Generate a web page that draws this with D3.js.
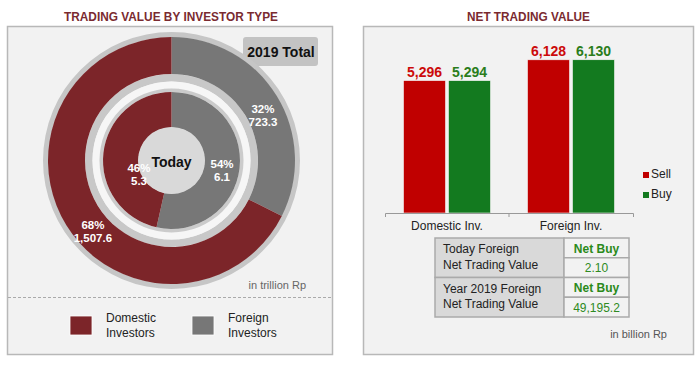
<!DOCTYPE html>
<html><head><meta charset="utf-8">
<script src="https://cdn.jsdelivr.net/npm/d3@7"></script>
<style>
html,body{margin:0;padding:0;background:#fff;}
svg{display:block;font-family:"Liberation Sans",Arial,sans-serif;}
</style></head>
<body><svg id="c" width="700" height="366"></svg>
<script>
// ---------- data ----------
const investorTypes = ["Domestic Investors", "Foreign Investors"];
const total2019 = [1507.6, 723.3];     // trillion Rp
const today = [5.3, 6.1];              // trillion Rp
const barCategories = ["Domestic Inv.", "Foreign Inv."];
const barSeries = ["Sell", "Buy"];
const sellValues = [5296, 6128];       // billion Rp
const buyValues = [5294, 6130];
const tableLabels = [["Today Foreign", "Net Trading Value"], ["Year 2019 Foreign", "Net Trading Value"]];
const tableStatus = ["Net Buy", "Net Buy"];
const tableValues = ["2.10", "49,195.2"];

const svg = d3.select("#c");
const FONT = "'Liberation Sans', Arial, sans-serif";
const colDom = "#7c2529", colFor = "#777777";
const colSell = "#c00000", colBuy = "#137a1f";

// ---------- panels ----------
svg.append("rect").attr("x", 7.5).attr("y", 26.5).attr("width", 325).attr("height", 328)
  .attr("fill", "#f2f2f2").attr("stroke", "#b8b8b8").attr("stroke-width", 1.5);
svg.append("rect").attr("x", 363.5).attr("y", 26.5).attr("width", 330).attr("height", 328)
  .attr("fill", "#f2f2f2").attr("stroke", "#b8b8b8").attr("stroke-width", 1.5);

svg.append("text").attr("x", 171).attr("y", 20.5).attr("text-anchor", "middle")
  .attr("font-size", 13).attr("font-weight", "bold").attr("fill", "#7a2a30")
  .attr("textLength", 214).attr("lengthAdjust", "spacingAndGlyphs")
  .text("TRADING VALUE BY INVESTOR TYPE");
svg.append("text").attr("x", 528.5).attr("y", 20.5).attr("text-anchor", "middle")
  .attr("font-size", 13).attr("font-weight", "bold").attr("fill", "#7a2a30")
  .attr("textLength", 123).attr("lengthAdjust", "spacingAndGlyphs")
  .text("NET TRADING VALUE");

// ---------- donut ----------
svg.append("rect").attr("x", 243).attr("y", 37).attr("width", 75).attr("height", 29).attr("rx", 3)
  .attr("fill", "#c3c3c3");
svg.append("text").attr("x", 281).attr("y", 57).attr("text-anchor", "middle")
  .attr("font-size", 14).attr("font-weight", "bold").attr("fill", "#111").text("2019 Total");

const cx = 171.5, cy = 160.5;
const g = svg.append("g").attr("transform", `translate(${cx},${cy})`);
const ring = (r0, r1, fill) => g.append("path")
  .attr("d", d3.arc()({innerRadius: r0, outerRadius: r1, startAngle: 0, endAngle: 2 * Math.PI}))
  .attr("fill", fill);
ring(123, 128.5, "#c6c6c6");
ring(79, 86.5, "#c8c8c8");
ring(72, 79, "#f6f6f6");
ring(68.5, 72, "#cbcbcb");

const pie = d3.pie().sort(null).value(d => d.v);
const order = [1, 0]; // foreign first, clockwise from 12 o'clock
const outerData = pie(order.map(i => ({name: investorTypes[i], v: total2019[i], i})));
const innerData = pie(order.map(i => ({name: investorTypes[i], v: today[i], i})));
const outerArc = d3.arc().innerRadius(86.5).outerRadius(123.5);
const innerArc = d3.arc().innerRadius(33).outerRadius(68.5);
const colorOf = i => i === 0 ? colDom : colFor;

g.selectAll("path.outer").data(outerData).join("path").attr("class", "outer")
  .attr("d", outerArc).attr("fill", d => colorOf(d.data.i));
g.selectAll("path.inner").data(innerData).join("path").attr("class", "inner")
  .attr("d", innerArc).attr("fill", d => colorOf(d.data.i));

g.append("circle").attr("r", 33.5).attr("fill", "#d9d9d9");
g.append("text").attr("y", 6).attr("text-anchor", "middle").attr("font-size", 14)
  .attr("font-weight", "bold").attr("fill", "#111").text("Today");

const fmt1 = d3.format(",.1f");
const deg = Math.PI / 180;
// label placement: [angle shift from mid-angle, radius] per investor index (0 domestic, 1 foreign)
function addLabels(data, place) {
  const sum = d3.sum(data, d => d.data.v);
  data.forEach(d => {
    const [shift, r] = place[d.data.i];
    const a = (d.startAngle + d.endAngle) / 2 + shift * deg;
    const x = r * Math.sin(a), y = -r * Math.cos(a);
    const t = g.append("text").attr("text-anchor", "middle").attr("font-size", 11.5)
      .attr("font-weight", "bold").attr("fill", "#fff");
    t.append("tspan").attr("x", x).attr("y", y - 2.25).text(Math.round(d.data.v / sum * 100) + "%");
    t.append("tspan").attr("x", x).attr("y", y + 10.75).text(fmt1(d.data.v));
  });
}
addLabels(outerData, [[-10.2, 105.5], [5.4, 102]]);
addLabels(innerData, [[-29.6, 35.4], [4.9, 51.5]]);

// legend + note
svg.append("line").attr("x1", 8).attr("x2", 332).attr("y1", 297.5).attr("y2", 297.5)
  .attr("stroke", "#aaa").attr("stroke-dasharray", "3,2");
svg.append("text").attr("x", 306).attr("y", 289).attr("text-anchor", "end")
  .attr("font-size", 11).attr("fill", "#666").text("in trillion Rp");
const legX = [70, 192];
investorTypes.forEach((name, i) => {
  svg.append("rect").attr("x", legX[i]).attr("y", 316).attr("width", 22).attr("height", 19)
    .attr("fill", colorOf(i)).attr("stroke", "#fff").attr("stroke-width", 0.8);
  const words = name.split(" ");
  const t = svg.append("text").attr("font-size", 12).attr("fill", "#222");
  words.forEach((w, k) => t.append("tspan").attr("x", legX[i] + 36).attr("y", 321.5 + k * 15.5).text(w));
});

// ---------- bar chart ----------
const x0 = d3.scaleBand().domain(barCategories).range([385, 633]).padding(0);
const x1 = d3.scaleBand().domain(barSeries).range([0, 87]).paddingInner(3 / 45);
const y = d3.scaleLinear().domain([0, 7000]).range([213, 38]);
const groupOffset = (x0.bandwidth() - 87) / 2;
const barData = barCategories.map((c, i) => ({c, vals: [sellValues[i], buyValues[i]]}));
const fmt0 = d3.format(",");
const barCol = [colSell, colBuy];
const labCol = ["#cc0a0a", "#2b7d1b"];

const bg = svg.selectAll("g.grp").data(barData).join("g").attr("class", "grp")
  .attr("transform", d => `translate(${x0(d.c) + groupOffset},0)`);
bg.selectAll("rect").data(d => d.vals.map((v, k) => ({v, k}))).join("rect")
  .attr("x", d => x1(barSeries[d.k])).attr("width", x1.bandwidth())
  .attr("y", d => y(d.v)).attr("height", d => y(0) - y(d.v))
  .attr("fill", d => barCol[d.k]).attr("stroke", "#f4f4f4").attr("stroke-width", 0.6);
bg.selectAll("text").data(d => d.vals.map((v, k) => ({v, k}))).join("text")
  .attr("x", d => x1(barSeries[d.k]) + x1.bandwidth() / 2).attr("y", d => y(d.v) - 3.5)
  .attr("text-anchor", "middle").attr("font-size", 14).attr("font-weight", "bold")
  .attr("fill", d => labCol[d.k]).text(d => fmt0(d.v));

const ax = svg.append("g").attr("transform", "translate(0,213)")
  .call(d3.axisBottom(x0).tickSize(0).tickSizeOuter(4).tickPadding(8.5));
ax.select(".domain").attr("stroke", "#999");
ax.selectAll("text").attr("font-size", 12).attr("fill", "#222").attr("font-family", FONT);
barCategories.slice(1).forEach(c => ax.append("line").attr("x1", x0(c)).attr("x2", x0(c))
  .attr("y1", 0).attr("y2", 4).attr("stroke", "#999"));

barSeries.forEach((s, k) => {
  svg.append("rect").attr("x", 643).attr("y", 172 + k * 20).attr("width", 6).attr("height", 6).attr("fill", barCol[k]);
  svg.append("text").attr("x", 651).attr("y", 178 + k * 20).attr("font-size", 12).attr("fill", "#222").text(s);
});

// ---------- table ----------
const tx = 435, tMid = 564, tR = 629, tTop = 238, rowH = 39.5;
tableLabels.forEach((lines, r) => {
  const top = tTop + r * rowH;
  svg.append("rect").attr("x", tx).attr("y", top).attr("width", tMid - tx).attr("height", rowH)
    .attr("fill", "#d9d9d9").attr("stroke", "#aaa").attr("stroke-width", 1.5);
  lines.forEach((l, k) => svg.append("text").attr("x", tx + 8).attr("y", top + 15 + k * 15.5)
    .attr("font-size", 12).attr("fill", "#222").text(l));
  const cells = [tableStatus[r], tableValues[r]];
  cells.forEach((c, k) => {
    const cy0 = top + k * rowH / 2;
    svg.append("rect").attr("x", tMid).attr("y", cy0).attr("width", tR - tMid).attr("height", rowH / 2)
      .attr("fill", "#f2f2f2").attr("stroke", "#aaa").attr("stroke-width", 1.5);
    svg.append("text").attr("x", (tMid + tR) / 2).attr("y", cy0 + 14.5).attr("text-anchor", "middle")
      .attr("font-size", 12).attr("font-weight", k === 0 ? "bold" : "normal")
      .attr("fill", k === 0 ? "#2a8a1a" : "#2e8a22").text(c);
  });
});
svg.append("text").attr("x", 667).attr("y", 338).attr("text-anchor", "end")
  .attr("font-size", 11).attr("fill", "#555").text("in billion Rp");
</script></body></html>
